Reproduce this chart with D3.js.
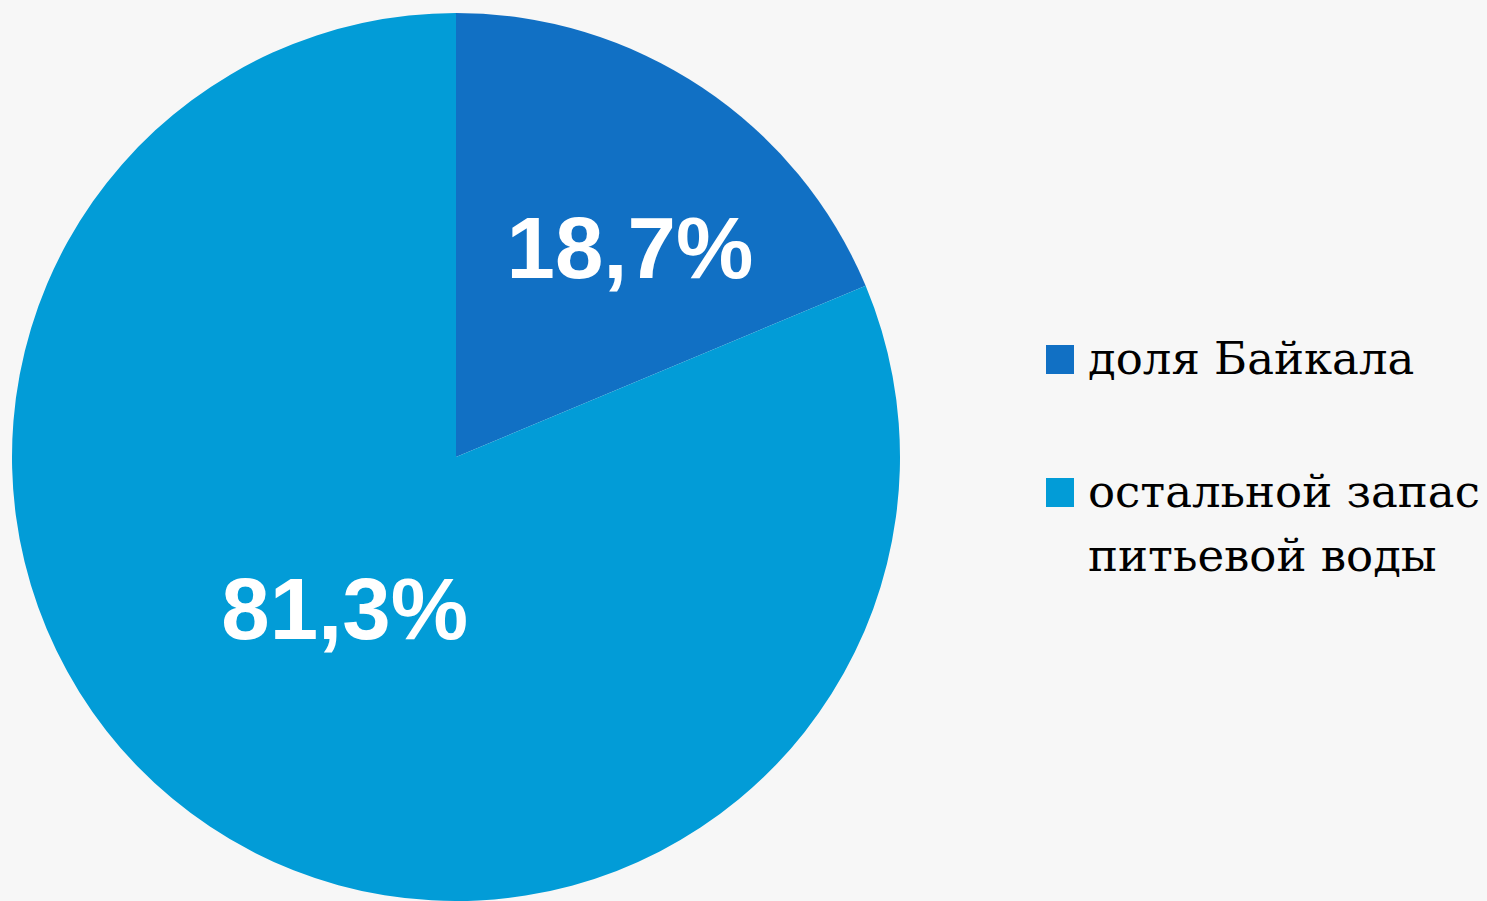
<!DOCTYPE html>
<html>
<head>
<meta charset="utf-8">
<script src="https://cdn.jsdelivr.net/npm/d3@7"></script>
<style>
  html, body { margin: 0; padding: 0; background: #f7f7f7; }
  svg { display: block; }
</style>
</head>
<body>
<svg id="chart" width="1487" height="901"></svg>
<script>
// data
const categories = ['доля Байкала', 'остальной запас питьевой воды'];
const values = [18.7, 81.3];
const labels = ['18,7%', '81,3%'];
const legendLines = [['доля Байкала'], ['остальной запас', 'питьевой воды']];
const colors = ['#1170C4', '#029CD7'];

const svg = d3.select('#chart');
const cx = 456, cy = 457, R = 444;

const pie = d3.pie().sort(null).value(d => d)(values);
const arc = d3.arc().innerRadius(0).outerRadius(R);

const g = svg.append('g').attr('transform', `translate(${cx},${cy})`);

g.selectAll('path.slice')
  .data(pie)
  .enter().append('path')
    .attr('class', 'slice')
    .attr('d', arc)
    .attr('fill', (d, i) => colors[i]);

// label placement: radius fraction and angle nudge (degrees), per slice
const labelPlace = [{ r: 0.61, da: 6.3 }, { r: 0.426, da: 2.4 }];
const labelAngle = (d, i) => (d.startAngle + d.endAngle) / 2 + labelPlace[i].da * Math.PI / 180;
g.selectAll('text.lbl')
  .data(pie)
  .enter().append('text')
    .attr('class', 'lbl')
    .attr('x', (d, i) => Math.sin(labelAngle(d, i)) * R * labelPlace[i].r)
    .attr('y', (d, i) => -Math.cos(labelAngle(d, i)) * R * labelPlace[i].r)
    .attr('dy', '0.33em')
    .attr('text-anchor', 'middle')
    .attr('fill', '#fff')
    .style('font-family', 'Liberation Sans, Arial, sans-serif')
    .style('font-weight', 'bold')
    .style('font-size', '87px')
    .text((d, i) => labels[i]);

// legend
const legend = svg.append('g').attr('transform', 'translate(1046,0)');
const legendY = [345, 478];
legendLines.forEach((lines, i) => {
  const item = legend.append('g').attr('transform', `translate(0,${legendY[i]})`);
  item.append('rect')
    .attr('width', 28).attr('height', 29)
    .attr('fill', colors[i]);
  const t = item.append('text')
    .attr('x', 42)
    .attr('y', 29)
    .style('font-family', 'DejaVu Serif, serif')
    .style('font-size', '45px')
    .attr('fill', '#000');
  lines.forEach((ln, j) => {
    t.append('tspan').attr('x', 42).attr('dy', j === 0 ? 0 : 64).text(ln);
  });
});
</script>
</body>
</html>
